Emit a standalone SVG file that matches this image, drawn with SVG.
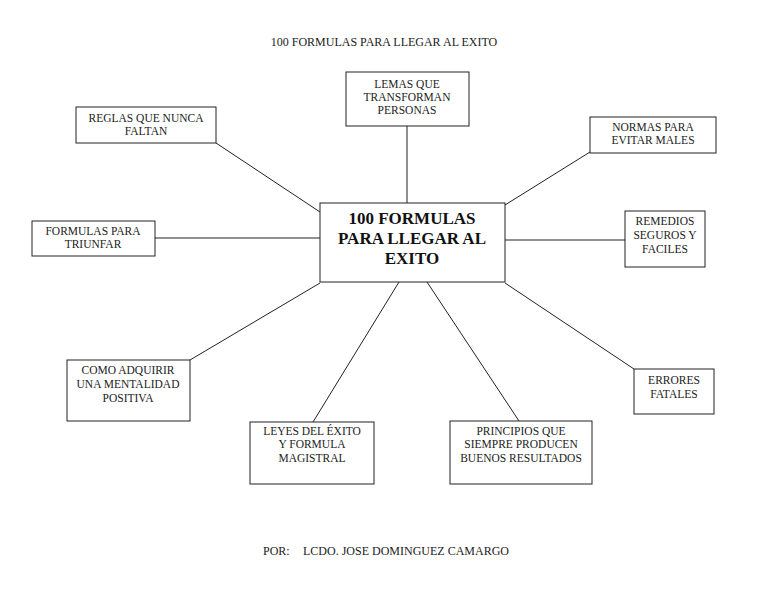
<svg xmlns="http://www.w3.org/2000/svg" width="768" height="594" viewBox="0 0 768 594">
<style>
.box{fill:#fff;stroke:#222;stroke-width:1}
.t{font-family:"Liberation Serif","Times New Roman",serif;font-size:11.5px;fill:#222;text-anchor:middle}
.h{font-family:"Liberation Serif","Times New Roman",serif;font-size:12px;fill:#222}
.c{font-family:"Liberation Serif","Times New Roman",serif;font-size:17px;font-weight:bold;fill:#111;text-anchor:middle}
.ln{stroke:#222;stroke-width:1;fill:none}
</style>
<rect width="768" height="594" fill="#fff"/>
<text class="h" x="384" y="46" text-anchor="middle">100 FORMULAS PARA LLEGAR AL EXITO</text>
<g id="connectors">
<line class="ln" x1="407" y1="126" x2="407" y2="203"/>
<line class="ln" x1="216" y1="143" x2="320" y2="212"/>
<line class="ln" x1="590" y1="152" x2="505" y2="205"/>
<line class="ln" x1="155" y1="238" x2="320" y2="238"/>
<line class="ln" x1="505" y1="240" x2="625" y2="240"/>
<line class="ln" x1="190" y1="360" x2="320" y2="283"/>
<line class="ln" x1="313" y1="422" x2="399" y2="282"/>
<line class="ln" x1="519" y1="421" x2="427" y2="282"/>
<line class="ln" x1="634" y1="369" x2="505" y2="283"/>
</g>
<g id="center">
<rect class="box" x="320" y="203" width="185" height="79"/>
<text class="c" x="412" y="224">100 FORMULAS</text>
<text class="c" x="412" y="244">PARA LLEGAR AL</text>
<text class="c" x="412" y="264">EXITO</text>
</g>
<g id="lemas">
<rect class="box" x="346" y="72" width="123" height="54"/>
<text class="t" x="407" y="88">LEMAS QUE</text>
<text class="t" x="407" y="101">TRANSFORMAN</text>
<text class="t" x="407" y="114">PERSONAS</text>
</g>
<g id="reglas">
<rect class="box" x="76" y="107" width="140" height="36"/>
<text class="t" x="146" y="122">REGLAS QUE NUNCA</text>
<text class="t" x="146" y="135">FALTAN</text>
</g>
<g id="normas">
<rect class="box" x="590" y="117" width="126" height="36"/>
<text class="t" x="653" y="131">NORMAS PARA</text>
<text class="t" x="653" y="144">EVITAR MALES</text>
</g>
<g id="triunfar">
<rect class="box" x="32" y="221" width="123" height="35"/>
<text class="t" x="93" y="235">FORMULAS PARA</text>
<text class="t" x="93" y="248">TRIUNFAR</text>
</g>
<g id="remedios">
<rect class="box" x="625" y="211" width="80" height="56"/>
<text class="t" x="665" y="225">REMEDIOS</text>
<text class="t" x="665" y="239">SEGUROS Y</text>
<text class="t" x="665" y="253">FACILES</text>
</g>
<g id="como">
<rect class="box" x="67" y="360" width="123" height="61"/>
<text class="t" x="128" y="374">COMO ADQUIRIR</text>
<text class="t" x="128" y="388">UNA MENTALIDAD</text>
<text class="t" x="128" y="402">POSITIVA</text>
</g>
<g id="leyes">
<rect class="box" x="250" y="422" width="124" height="62"/>
<text class="t" x="312" y="435">LEYES DEL ÉXITO</text>
<text class="t" x="312" y="448">Y FORMULA</text>
<text class="t" x="312" y="462">MAGISTRAL</text>
</g>
<g id="principios">
<rect class="box" x="450" y="421" width="142" height="63"/>
<text class="t" x="521" y="435">PRINCIPIOS QUE</text>
<text class="t" x="521" y="448">SIEMPRE PRODUCEN</text>
<text class="t" x="521" y="462">BUENOS RESULTADOS</text>
</g>
<g id="errores">
<rect class="box" x="634" y="369" width="80" height="45"/>
<text class="t" x="674" y="384">ERRORES</text>
<text class="t" x="674" y="398">FATALES</text>
</g>
<text class="h" x="263" y="555">POR:</text>
<text class="h" x="303" y="555">LCDO. JOSE DOMINGUEZ CAMARGO</text>
</svg>
